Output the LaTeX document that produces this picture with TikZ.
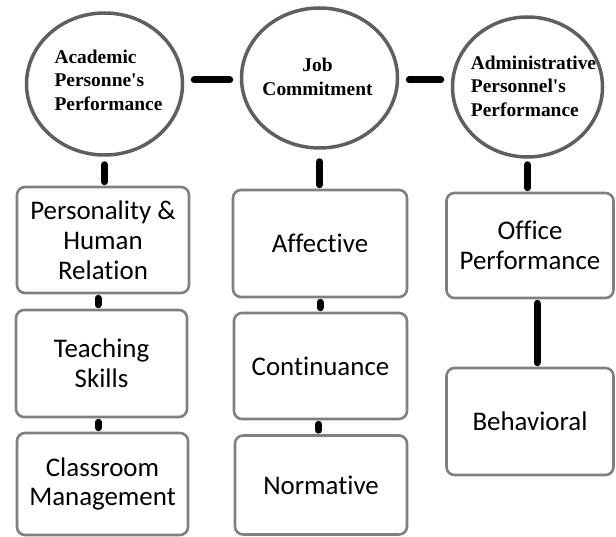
\documentclass[tikz,border=0pt]{standalone}
\usepackage{fontspec}
\setmainfont{Liberation Serif}[Ligatures=TeXOff]
\newfontfamily\boxfont{Carlito}[Ligatures={NoCommon,TeXOff}]
\usetikzlibrary{shapes.geometric}
\definecolor{ringgray}{HTML}{5F5F5F}
\definecolor{boxgray}{HTML}{808080}
\tikzset{
  ring/.style={ellipse, draw=ringgray, line width=3.5bp, fill=white, inner sep=0pt},
  ringtext/.style={inner sep=0pt, font=\fontsize{19.5}{23.5}\selectfont\bfseries},
  factor/.style={rectangle, rounded corners=8bp, draw=boxgray, line width=2.6bp,
    fill=white, inner sep=0pt, align=center,
    font=\boxfont\fontsize{27}{30}\selectfont},
  link/.style={line width=7bp, line cap=round, black}
}
\begin{document}
\begin{tikzpicture}[x=1bp,y=-1bp]
\useasboundingbox (0,0) rectangle (616,537);

% top-level constructs
\node[ring, minimum width=156bp, minimum height=142bp] (acad) at (104.5,84) {};
\node[ring, minimum width=156bp, minimum height=140bp] (job) at (319.5,78) {};
\node[ring, minimum width=150bp, minimum height=140bp] (admin) at (527.5,87) {};
\node[ringtext, align=left] (acadtxt) at (108.5,80) {Academic\\Personne's\\Performance};
\node[ringtext, align=center] (jobtxt) at (317.5,77) {Job\\Commitment};
\node[ringtext, align=left] (admintxt) at (533.5,86) {Administrative\\Personnel's\\Performance};

% dimensions of each construct
\node[factor, minimum width=172bp, minimum height=106bp] (pers) at (103,240) {Personality \&\\Human\\Relation};
\node[factor, minimum width=171bp, minimum height=107bp] (teach) at (101.5,363.5) {Teaching\\Skills};
\node[factor, minimum width=171bp, minimum height=102bp] (class) at (102.5,484) {Classroom\\Management};

\node[factor, minimum width=174bp, minimum height=107bp] (aff) at (320,243.5) {Affective};
\node[factor, minimum width=173bp, minimum height=106bp] (cont) at (320.5,366) {Continuance};
\node[factor, minimum width=172bp, minimum height=99bp] (norm) at (321,485) {Normative};

\node[factor, minimum width=167bp, minimum height=105bp] (office) at (530,245.5) {Office\\Performance};
\node[factor, minimum width=167bp, minimum height=107bp] (behav) at (530,421.5) {Behavioral};

% connectors
\draw[link, shorten <=10bp, shorten >=10bp] ([yshift=-2bp]acad.east |- job.west) -- ([yshift=-2bp]job.west);
\draw[link, shorten <=10bp, shorten >=10bp] ([yshift=-2bp]job.east) -- ([yshift=-2bp]job.east -| admin.west);
\draw[link, shorten <=8bp, shorten >=4bp] (acad.south) -- (acad.south |- pers.north);
\draw[link, shorten <=12bp, shorten >=4bp] (job.south) -- (job.south |- aff.north);
\draw[link, shorten <=6bp, shorten >=4bp] (admin.south) -- (admin.south |- office.north);
\draw[link, shorten <=4bp, shorten >=4bp] ([xshift=-5bp]pers.south) -- ([xshift=-5bp]pers.south |- teach.north);
\draw[link, shorten <=4bp, shorten >=4bp] ([xshift=-3bp]teach.south) -- ([xshift=-3bp]teach.south |- class.north);
\draw[link, shorten <=4bp, shorten >=4bp] (aff.south) -- (aff.south |- cont.north);
\draw[link, shorten <=4bp, shorten >=4bp] ([xshift=-2bp]cont.south) -- ([xshift=-2bp]cont.south |- norm.north);
\draw[link, shorten <=4bp, shorten >=4bp] ([xshift=7bp]office.south) -- ([xshift=7bp]office.south |- behav.north);
\end{tikzpicture}
\end{document}
